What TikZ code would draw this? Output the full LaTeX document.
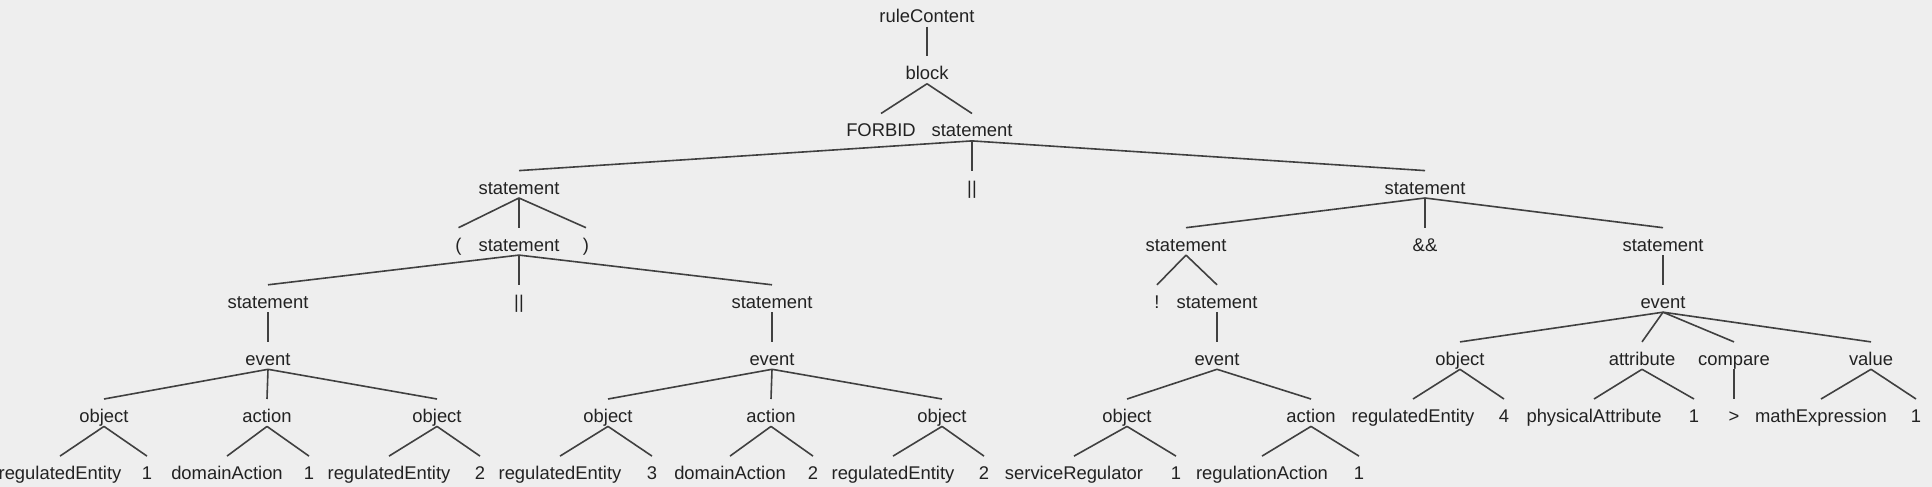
\documentclass[tikz,border=0pt]{standalone}
\usepackage{fontspec}
\setmainfont{Liberation Sans}
\usepackage{tikz}
\usetikzlibrary{positioning}
\definecolor{bggray}{HTML}{EEEEEE}
\definecolor{linegray}{HTML}{404040}
\definecolor{textgray}{HTML}{222222}

\begin{document}
\begin{tikzpicture}[-,auto,node distance=28.55pt,x=1pt,y=1pt]
\tikzstyle{tok}=[inner sep=0pt,text height=11.5pt,text depth=1.8pt,text=textgray]
\tikzset{font=\fontsize{9.2pt}{11}\selectfont}

        \fill[bggray] (0,0) rectangle (966,-243.5);
        \useasboundingbox (0,0) rectangle (966,-243.5);

        \node[tok]      (r)    at (463.5,-6.5)                     {ruleContent};
        \node[tok]      (b)    [below of=r]                        {block};
        \node[tok]      (f)    [below of=b, xshift=-23pt]          {FORBID};
        \node[tok]      (s0)   [below of=b, xshift=22.5pt]         {statement};

        \node[tok]      (s1)   [below of=s0, xshift=-226.5pt]      {statement};
        \node[tok]      (or0)  [below of=s0]                       {||};
        \node[tok]      (s2)   [below of=s0, xshift=226.5pt]       {statement};

        \node[tok]      (lp)   [below of=s1, xshift=-30.25pt]      {(};
        \node[tok]      (s3)   [below of=s1]                       {statement};
        \node[tok]      (rp)   [below of=s1, xshift=33.5pt]        {)};
        \node[tok]      (s4)   [below of=s2, xshift=-119.5pt]      {statement};
        \node[tok]      (and0) [below of=s2]                       {\&\&};
        \node[tok]      (s5)   [below of=s2, xshift=119pt]         {statement};

        \node[tok]      (s6)   [below of=s3, xshift=-125.5pt]      {statement};
        \node[tok]      (or1)  [below of=s3]                       {||};
        \node[tok]      (s7)   [below of=s3, xshift=126.5pt]       {statement};
        \node[tok]      (not0) [below of=s4, xshift=-14.5pt]       {!};
        \node[tok]      (s8)   [below of=s4, xshift=15.5pt]        {statement};
        \node[tok]      (e3)   [below of=s5]                       {event};

        \node[tok]      (e1)   [below of=s6]                       {event};
        \node[tok]      (e2)   [below of=s7]                       {event};
        \node[tok]      (e4)   [below of=s8]                       {event};
        \node[tok]      (o6)   [below of=e3, xshift=-101.5pt]      {object};
        \node[tok]      (at1)  [below of=e3, xshift=-10.5pt]       {attribute};
        \node[tok]      (c1)   [below of=e3, xshift=35.5pt]        {compare};
        \node[tok]      (v1)   [below of=e3, xshift=104pt]         {value};

        \node[tok]      (o1)   [below of=e1, xshift=-82pt]         {object};
        \node[tok]      (a1)   [below of=e1, xshift=-0.5pt]        {action};
        \node[tok]      (o2)   [below of=e1, xshift=84.5pt]        {object};
        \node[tok]      (o3)   [below of=e2, xshift=-82pt]         {object};
        \node[tok]      (a2)   [below of=e2, xshift=-0.5pt]        {action};
        \node[tok]      (o4)   [below of=e2, xshift=85pt]          {object};
        \node[tok]      (o5)   [below of=e4, xshift=-45pt]         {object};
        \node[tok]      (a3)   [below of=e4, xshift=47pt]          {action};
        \node[tok]      (q1)   [below of=o6, xshift=-23.5pt]       {regulatedEntity};
        \node[tok]      (q2)   [below of=o6, xshift=22pt]          {4};
        \node[tok]      (q3)   [below of=at1, xshift=-24pt]        {physicalAttribute};
        \node[tok]      (q4)   [below of=at1, xshift=26pt]         {1};
        \node[tok]      (q5)   [below of=c1]                       {>};
        \node[tok]      (q6)   [below of=v1, xshift=-25pt]         {mathExpression};
        \node[tok]      (q7)   [below of=v1, xshift=22.5pt]        {1};

        \node[tok]      (l1)   [below of=o1, xshift=-22pt]         {regulatedEntity};
        \node[tok]      (l2)   [below of=o1, xshift=21.5pt]        {1};
        \node[tok]      (l3)   [below of=a1, xshift=-20pt]         {domainAction};
        \node[tok]      (l4)   [below of=a1, xshift=21pt]          {1};
        \node[tok]      (l5)   [below of=o2, xshift=-24pt]         {regulatedEntity};
        \node[tok]      (l6)   [below of=o2, xshift=21.5pt]        {2};
        \node[tok]      (l7)   [below of=o3, xshift=-24pt]         {regulatedEntity};
        \node[tok]      (l8)   [below of=o3, xshift=22pt]          {3};
        \node[tok]      (l9)   [below of=a2, xshift=-20.5pt]       {domainAction};
        \node[tok]      (l10)  [below of=a2, xshift=21pt]          {2};
        \node[tok]      (l11)  [below of=o4, xshift=-24.5pt]       {regulatedEntity};
        \node[tok]      (l12)  [below of=o4, xshift=21pt]          {2};
        \node[tok]      (l13)  [below of=o5, xshift=-26.5pt]       {serviceRegulator};
        \node[tok]      (l14)  [below of=o5, xshift=24.5pt]        {1};
        \node[tok]      (l15)  [below of=a3, xshift=-24.5pt]       {regulationAction};
        \node[tok]      (l16)  [below of=a3, xshift=24pt]          {1};

        \path[draw=linegray, line width=0.8pt]
        (r.south)   edge (b.north)
        (b.south)   edge (f.north)   (b.south)   edge (s0.north)
        (s0.south)  edge (s1.north)  (s0.south)  edge (or0.north)  (s0.south)  edge (s2.north)
        (s1.south)  edge (lp.north)  (s1.south)  edge (s3.north)   (s1.south)  edge (rp.north)
        (s2.south)  edge (s4.north)  (s2.south)  edge (and0.north) (s2.south)  edge (s5.north)
        (s3.south)  edge (s6.north)  (s3.south)  edge (or1.north)  (s3.south)  edge (s7.north)
        (s4.south)  edge (not0.north) (s4.south) edge (s8.north)
        (s5.south)  edge (e3.north)
        (s6.south)  edge (e1.north)  (s7.south)  edge (e2.north)   (s8.south)  edge (e4.north)
        (e1.south)  edge (o1.north)  (e1.south)  edge (a1.north)   (e1.south)  edge (o2.north)
        (e2.south)  edge (o3.north)  (e2.south)  edge (a2.north)   (e2.south)  edge (o4.north)
        (e4.south)  edge (o5.north)  (e4.south)  edge (a3.north)
        (e3.south)  edge (o6.north)  (e3.south)  edge (at1.north)  (e3.south)  edge (c1.north)  (e3.south) edge (v1.north)
        (o6.south)  edge (q1.north)  (o6.south)  edge (q2.north)
        (at1.south) edge (q3.north)  (at1.south) edge (q4.north)
        (c1.south)  edge (q5.north)
        (v1.south)  edge (q6.north)  (v1.south)  edge (q7.north)
        (o1.south)  edge (l1.north)  (o1.south)  edge (l2.north)
        (a1.south)  edge (l3.north)  (a1.south)  edge (l4.north)
        (o2.south)  edge (l5.north)  (o2.south)  edge (l6.north)
        (o3.south)  edge (l7.north)  (o3.south)  edge (l8.north)
        (a2.south)  edge (l9.north)  (a2.south)  edge (l10.north)
        (o4.south)  edge (l11.north) (o4.south)  edge (l12.north)
        (o5.south)  edge (l13.north) (o5.south)  edge (l14.north)
        (a3.south)  edge (l15.north) (a3.south)  edge (l16.north)
        ; %end path

\end{tikzpicture}
\end{document}
